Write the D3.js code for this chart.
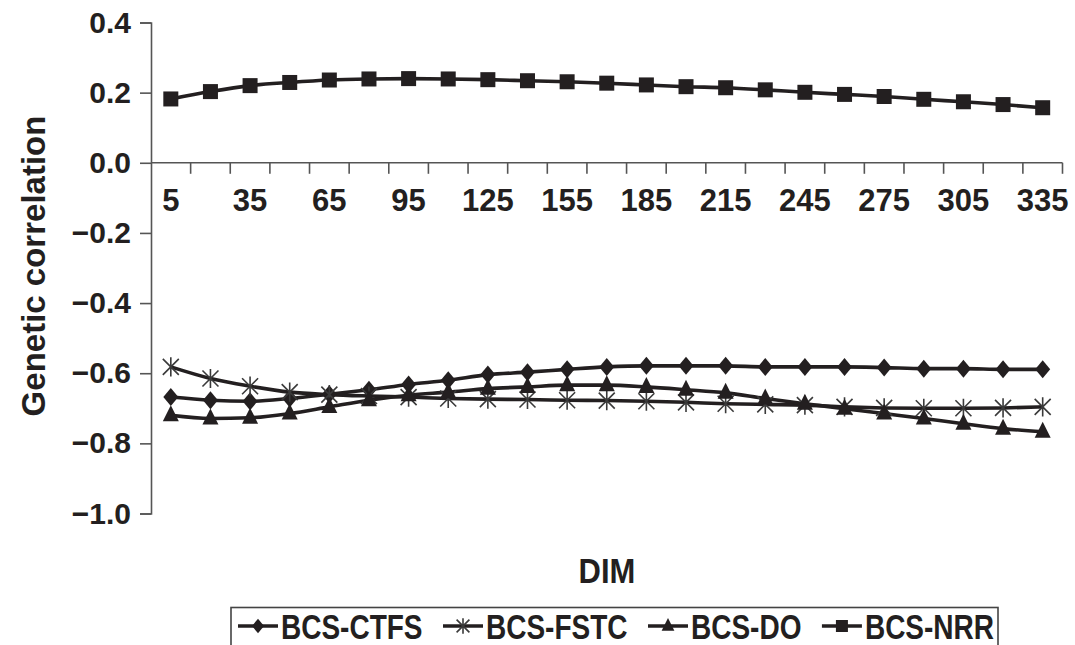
<!DOCTYPE html>
<html>
<head>
<meta charset="utf-8">
<script src="https://cdn.jsdelivr.net/npm/d3@7"></script>
<style>
  body { margin: 0; background: #fff; }
  svg { display: block; font-family: "Liberation Sans", Arial, sans-serif; }
</style>
</head>
<body>
<div id="chart"></div>
<script>
// values, one per DIM category
let dims = [5, 20, 35, 50, 65, 80, 95, 110, 125, 140, 155, 170, 185, 200, 215, 230, 245, 260, 275, 290, 305, 320, 335];

let ctfs = [-0.668, -0.677, -0.680, -0.672, -0.660, -0.647, -0.632, -0.620, -0.604, -0.597, -0.589, -0.582,
  -0.579, -0.579, -0.579, -0.582, -0.582, -0.582, -0.584, -0.587, -0.587, -0.589, -0.589];
let fstc = [-0.582, -0.615, -0.637, -0.654, -0.661, -0.665, -0.668, -0.672, -0.674, -0.675, -0.677, -0.678,
  -0.680, -0.683, -0.687, -0.689, -0.691, -0.696, -0.699, -0.700, -0.700, -0.699, -0.696];
let dO = [-0.720, -0.729, -0.727, -0.715, -0.696, -0.677, -0.663, -0.654, -0.644, -0.639, -0.634, -0.634,
  -0.639, -0.647, -0.656, -0.672, -0.687, -0.701, -0.715, -0.729, -0.744, -0.758, -0.767];
let nrr = [0.182, 0.203, 0.220, 0.229, 0.236, 0.239, 0.240, 0.239, 0.237, 0.234, 0.231, 0.227,
  0.222, 0.217, 0.214, 0.208, 0.201, 0.195, 0.189, 0.181, 0.174, 0.166, 0.157];

let seriesNames = ["BCS-CTFS", "BCS-FSTC", "BCS-DO", "BCS-NRR"];
let seriesMarkers = ["diamond", "star", "triangle", "square"];
let yTicks = [0.4, 0.2, 0.0, -0.2, -0.4, -0.6, -0.8, -1.0];
let xLabelDims = [5, 35, 65, 95, 125, 155, 185, 215, 245, 275, 305, 335];

let w = 1075, h = 645;
let ink = "#231f20";
let axisColor = "#555";

let viz = d3.select("#chart").append("svg")
    .attr("width", w)
    .attr("height", h)
;

let xScale = d3.scaleBand().domain(dims).range([151, 1062.5]).padding(0);
let yScale = d3.scaleLinear().domain([-1.0, 0.4]).range([513.5, 22.5]);
let cx = function(d){ return xScale(d) + xScale.bandwidth() / 2; };

// y axis
let yAxis = d3.axisLeft(yScale)
    .tickValues(yTicks)
    .tickSize(11)
    .tickPadding(9)
    .tickFormat(d3.format(".1f"));
let yAxisGroup = viz.append("g")
    .attr("transform", "translate(151,0)")
    .call(yAxis);
yAxisGroup.select(".domain").attr("stroke", axisColor).attr("stroke-width", 1.6);
yAxisGroup.selectAll(".tick line").attr("stroke", axisColor).attr("stroke-width", 1.6);
yAxisGroup.selectAll(".tick text")
    .attr("font-size", "30px")
    .attr("font-weight", "bold")
    .attr("fill", ink);

// x axis along y = 0, tick marks between categories
let xAxisGroup = viz.append("g").attr("class", "xaxisgroup");
xAxisGroup.append("line")
    .attr("x1", xScale.range()[0]).attr("x2", xScale.range()[1])
    .attr("y1", yScale(0)).attr("y2", yScale(0))
    .attr("stroke", axisColor).attr("stroke-width", 1.6);
let edges = dims.slice(1).map(function(d){ return xScale(d); }).concat([xScale.range()[1]]);
xAxisGroup.selectAll(".xtick").data(edges).enter()
  .append("line")
    .attr("class", "xtick")
    .attr("x1", function(d){ return d; }).attr("x2", function(d){ return d; })
    .attr("y1", yScale(0)).attr("y2", yScale(0) + 11)
    .attr("stroke", axisColor).attr("stroke-width", 1.6);
xAxisGroup.selectAll(".xlabel").data(xLabelDims).enter()
  .append("text")
    .attr("class", "xlabel")
    .attr("x", cx)
    .attr("y", 211)
    .attr("text-anchor", "middle")
    .attr("font-size", "31px")
    .attr("font-weight", "bold")
    .attr("fill", ink)
    .text(function(d){ return d; });

// axis titles
viz.append("text")
    .attr("transform", "translate(607,583) scale(1,1.15)")
    .attr("text-anchor", "middle")
    .attr("font-size", "31px").attr("font-weight", "bold").attr("fill", ink)
    .text("DIM");
viz.append("text")
    .attr("transform", "translate(45,266) rotate(-90)")
    .attr("text-anchor", "middle")
    .attr("font-size", "33px").attr("font-weight", "bold").attr("fill", ink)
    .text("Genetic correlation");

// markers
function drawMarker(g, type, scale){
  let s = scale || 1;
  if(type == "diamond"){
    g.append("path").attr("d", "M0,-9L7.5,0L0,9L-7.5,0Z").attr("transform", "scale(" + s + ")").attr("fill", ink);
  } else if(type == "square"){
    g.append("rect").attr("x", -7.5 * s).attr("y", -7.5 * s).attr("width", 15 * s).attr("height", 15 * s).attr("fill", ink);
  } else if(type == "triangle"){
    g.append("path").attr("d", "M0,-10L8,6L-8,6Z").attr("transform", "scale(" + s + ")").attr("fill", ink);
  } else if(type == "star"){
    let r = 8 * s;
    g.append("path")
      .attr("d", "M" + (-r) + "," + (-r) + "L" + r + "," + r + "M" + r + "," + (-r) + "L" + (-r) + "," + r + "M0," + (-r * 1.2) + "L0," + (r * 1.2))
      .attr("stroke", "#3a3a3a").attr("stroke-width", 1.6).attr("fill", "none");
  }
}

let allSeries = [ctfs, fstc, dO, nrr];
let line = d3.line()
    .x(function(d, i){ return cx(dims[i]); })
    .y(function(d){ return yScale(d); })
    .curve(d3.curveMonotoneX);

let graphgroup = viz.append("g").attr("class", "graphgroup");
allSeries.forEach(function(vals, k){
  graphgroup.append("path")
      .datum(vals)
      .attr("d", line)
      .attr("fill", "none")
      .attr("stroke", ink)
      .attr("stroke-width", 3.6);
});
allSeries.forEach(function(vals, k){
  graphgroup.selectAll(".pt" + k).data(vals).enter()
    .append("g")
      .attr("class", "pt" + k)
      .attr("transform", function(d, i){ return "translate(" + cx(dims[i]) + "," + yScale(d) + ")"; })
      .each(function(){ drawMarker(d3.select(this), seriesMarkers[k]); });
});

// legend
let legend = viz.append("g").attr("class", "legend");
legend.append("rect")
    .attr("x", 231).attr("y", 607.5).attr("width", 767).attr("height", 60)
    .attr("fill", "none").attr("stroke", "#444").attr("stroke-width", 1.6);
let items = seriesNames.map(function(name, k){
  let item = legend.append("g");
  item.append("line").attr("x1", 0).attr("x2", 40).attr("y1", 0).attr("y2", 0)
      .attr("stroke", ink).attr("stroke-width", 3.6);
  let m = item.append("g").attr("transform", "translate(20,0)");
  drawMarker(m, seriesMarkers[k], 0.8);
  let t = item.append("text")
      .attr("transform", "translate(43,12.5) scale(1,1.25)")
      .attr("font-size", "28px").attr("font-weight", "bold").attr("fill", ink)
      .text(name);
  return {g: item, tw: t.node().getComputedTextLength()};
});
let textSum = d3.sum(items, function(d){ return d.tw; });
let gap = (994 - 238 - textSum - 4 * 43) / 3;
let lx = 238;
items.forEach(function(it){
  it.g.attr("transform", "translate(" + lx + ",626)");
  lx += 43 + it.tw + gap;
});
</script>
</body>
</html>
